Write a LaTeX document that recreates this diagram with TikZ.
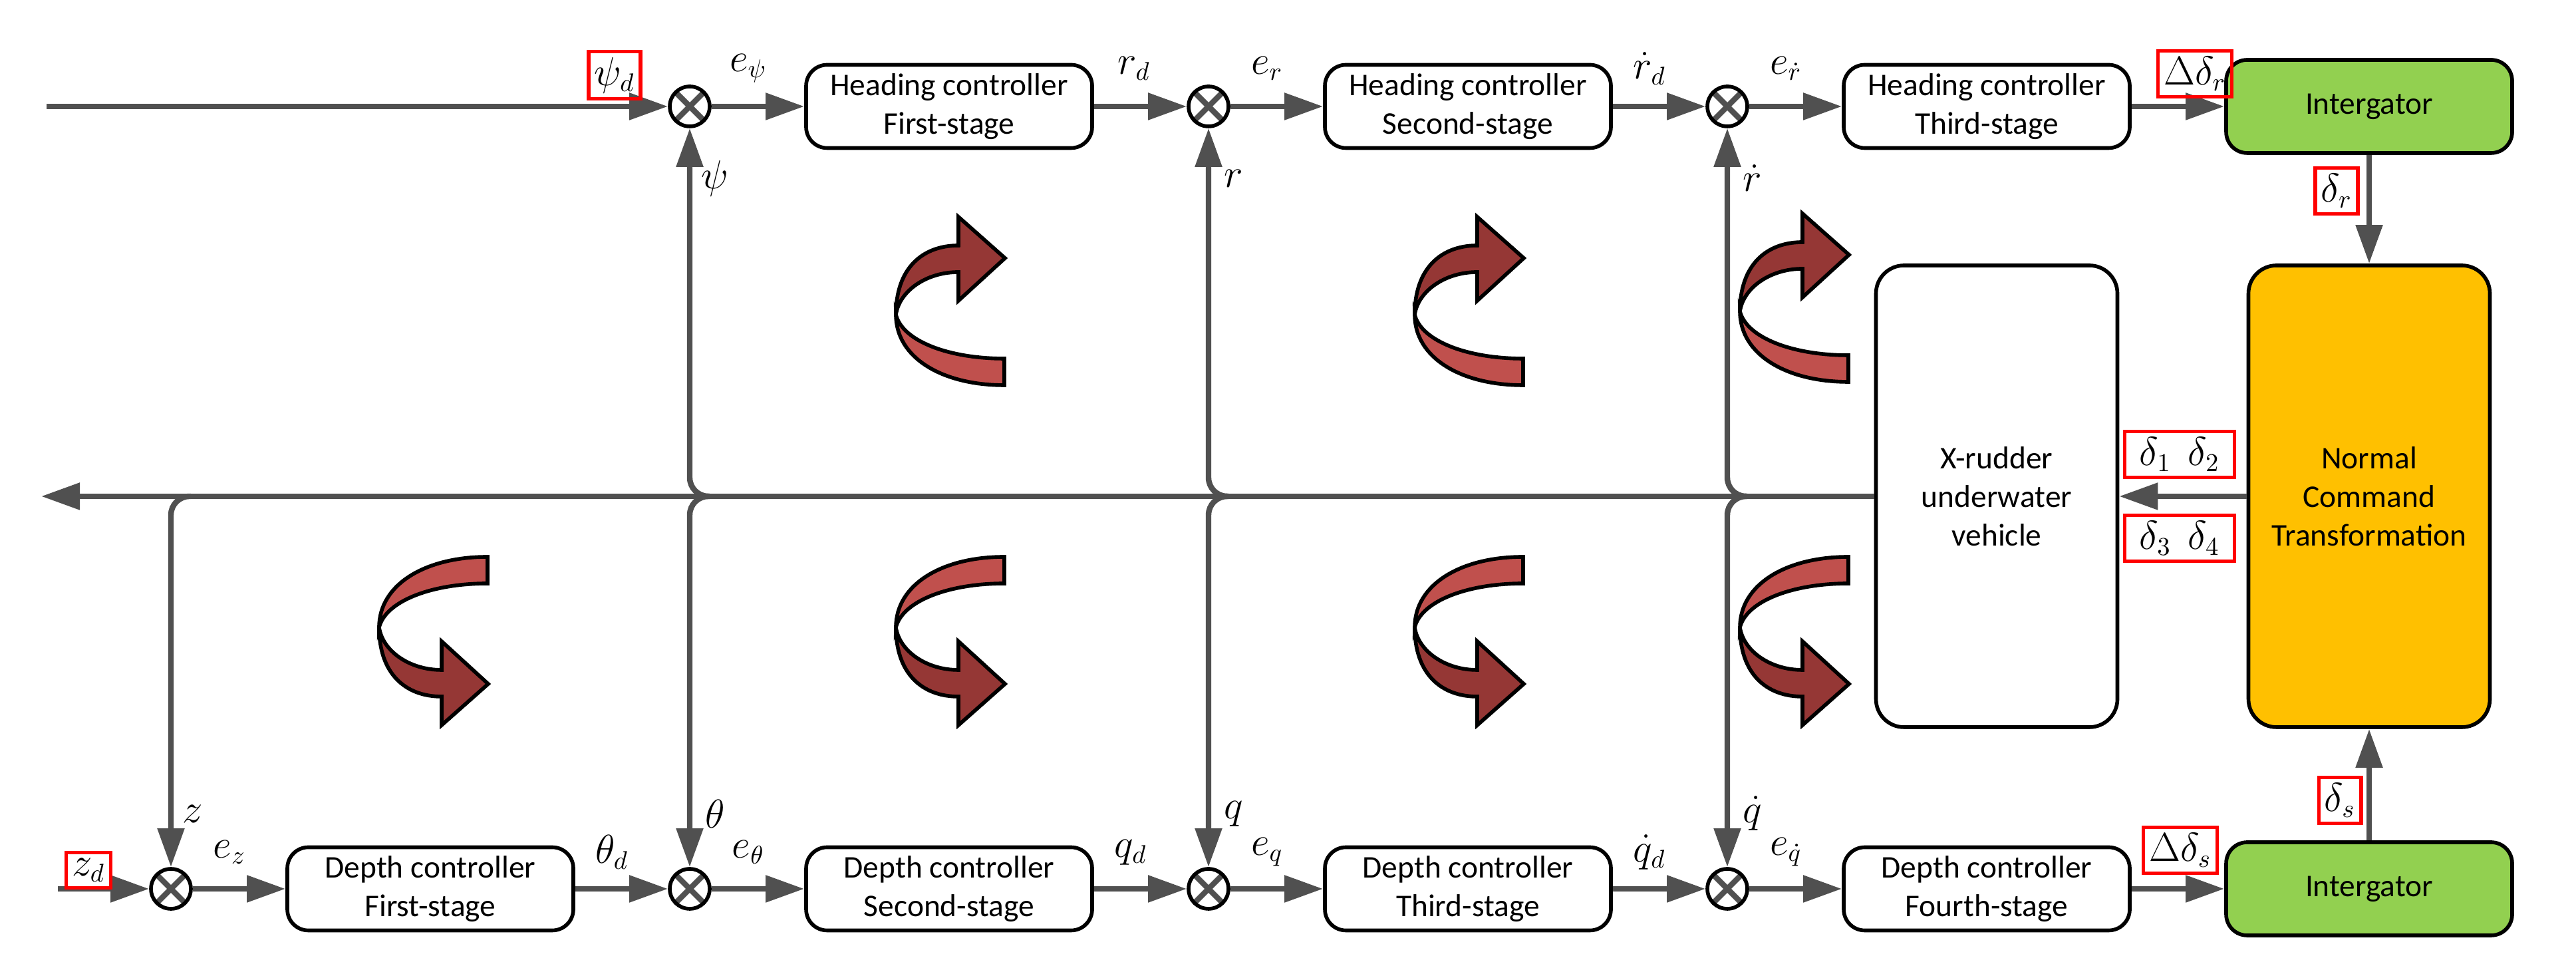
\documentclass[tikz,border=0pt]{standalone}
\usepackage{fontspec}
\setmainfont{Carlito}
\usepackage{tikz}
\usetikzlibrary{positioning,arrows.meta,calc}
\definecolor{lineg}{HTML}{505050}
\definecolor{darkred}{HTML}{953735}
\definecolor{lightred}{HTML}{C0504D}
\definecolor{ygreen}{HTML}{92D050}
\definecolor{gold}{HTML}{FFC000}
\newcommand{\turnarrow}[3]{% x, y, yscale
  \begin{scope}[shift={(#1,#2)}, yscale=#3, line width=1.6pt, draw=black]
    \filldraw[fill=lightred] (0,0) .. controls (0,-0.65) and (0.7,-1.06) .. (1.63,-1.06)
      -- (1.63,-0.66) .. controls (0.8,-0.66) and (0.1,-0.4) .. (0,0) -- cycle;
    \filldraw[fill=darkred] (0,0) .. controls (0,0.7) and (0.4,1.04) .. (0.94,1.04)
      -- (0.94,1.47) -- (1.64,0.85) -- (0.94,0.21) -- (0.94,0.64)
      .. controls (0.45,0.64) and (0.05,0.35) .. (0,0) -- cycle;
  \end{scope}}
\begin{document}
\begin{tikzpicture}[
  sig/.style={draw=lineg, line width=2.4pt, -{Triangle[length=0.58cm, width=0.39cm]}},
  fb/.style={sig, rounded corners=8pt},
  ctrl/.style={draw, line width=1.6pt, rounded corners=9pt, minimum width=4.3cm, minimum height=1.25cm, align=center, font=\fontsize{13.5}{16.5}\selectfont},
  integ/.style={ctrl, fill=ygreen, minimum height=1.4cm},
  big/.style={draw, line width=1.6pt, rounded corners=12pt, minimum width=3.63cm, minimum height=6.94cm, align=center, font=\fontsize{13.5}{16.5}\selectfont},
  sum/.style={draw, line width=1.6pt, circle, minimum size=0.6cm, inner sep=0pt,
    path picture={\draw[lineg, line width=2.4pt] (path picture bounding box.north west) -- (path picture bounding box.south east)
      (path picture bounding box.north east) -- (path picture bounding box.south west);}},
  lbl/.style={draw=red, line width=1.5pt, inner sep=2.5pt, font=\fontsize{16}{16}\selectfont},
  ml/.style={font=\fontsize{16}{16}\selectfont, inner sep=1pt}
]
\useasboundingbox (0,0) rectangle (38.73,14.73);

% heading channel
\coordinate (inp) at (0.7,13.13);
\node[sum] (sp) at (10.37,13.13) {};
\node[ctrl] (hc1) at (14.27,13.13) {Heading controller\\First-stage};
\node[sum] (sr) at (18.17,13.13) {};
\node[ctrl] (hc2) at (22.07,13.13) {Heading controller\\Second-stage};
\node[sum] (srd) at (25.97,13.13) {};
\node[ctrl] (hc3) at (29.87,13.13) {Heading controller\\Third-stage};
\node[integ] (it) at (35.62,13.13) {Intergator};

% depth channel
\coordinate (inz) at (0.87,1.37);
\node[sum] (sz) at (2.57,1.37) {};
\node[ctrl] (dc1) at (6.47,1.37) {Depth controller\\First-stage};
\node[sum] (sth) at (10.37,1.37) {};
\node[ctrl] (dc2) at (14.27,1.37) {Depth controller\\Second-stage};
\node[sum] (sq) at (18.17,1.37) {};
\node[ctrl] (dc3) at (22.07,1.37) {Depth controller\\Third-stage};
\node[sum] (sqd) at (25.97,1.37) {};
\node[ctrl] (dc4) at (29.87,1.37) {Depth controller\\Fourth-stage};
\node[integ] (ib) at (35.62,1.37) {Intergator};

% plant and allocation
\node[big] (veh) at (30.02,7.27) {X-rudder\\underwater\\vehicle};
\node[big, fill=gold] (ntr) at (35.62,7.27) {Normal\\Command\\Transformation};
\coordinate (out) at (0.62,7.27);

% forward paths
\draw[sig] (inp) -- (sp);
\draw[sig] (sp) -- (hc1);
\draw[sig] (hc1) -- (sr);
\draw[sig] (sr) -- (hc2);
\draw[sig] (hc2) -- (srd);
\draw[sig] (srd) -- (hc3);
\draw[sig] (hc3) -- (it);
\draw[sig] (inz) -- (sz);
\draw[sig] (sz) -- (dc1);
\draw[sig] (dc1) -- (sth);
\draw[sig] (sth) -- (dc2);
\draw[sig] (dc2) -- (sq);
\draw[sig] (sq) -- (dc3);
\draw[sig] (dc3) -- (sqd);
\draw[sig] (sqd) -- (dc4);
\draw[sig] (dc4) -- (ib);
\draw[sig] (it) -- (ntr);
\draw[sig] (ib) -- (ntr);
\draw[sig] (ntr) -- (veh);
\draw[sig] (veh.west) -- (out);

% feedback branches
\foreach \s in {sp,sr,srd,sz,sth,sq,sqd}
  \draw[fb] ([xshift=3mm]\s |- veh.west) -| (\s);

% signal labels
\node[lbl] (lpsid) at (9.24,13.6) {$\psi_d$};
\node[lbl] (lzd) at (1.33,1.65) {$z_d$};
\node[lbl] (ldr) at (33.0,13.62) {$\Delta\delta_r$};
\node[lbl] (lr) at (35.13,11.86) {$\delta_r$};
\node[lbl] (lds) at (32.78,1.95) {$\Delta\delta_s$};
\node[lbl] (ls) at (35.18,2.70) {$\delta_s$};
\node[lbl, minimum width=1.65cm] (l12) at (32.77,7.9) {$\delta_1\ \ \delta_2$};
\node[lbl, minimum width=1.65cm] (l34) at (32.77,6.64) {$\delta_3\ \ \delta_4$};

\node[ml] at (11.25,13.7) {$e_\psi$};
\node[ml] at (17.05,13.7) {$r_d$};
\node[ml] at (19.05,13.7) {$e_r$};
\node[ml] at (24.8,13.7) {$\dot r_d$};
\node[ml] at (26.85,13.7) {$e_{\dot r}$};
\node[ml] at (10.75,12.05) {$\psi$};
\node[ml] at (18.55,12.05) {$r$};
\node[ml] at (26.35,12.05) {$\dot r$};
\node[ml] at (2.9,2.5) {$z$};
\node[ml] at (10.75,2.5) {$\theta$};
\node[ml] at (18.55,2.5) {$q$};
\node[ml] at (26.35,2.5) {$\dot q$};
\node[ml] at (3.45,1.92) {$e_z$};
\node[ml] at (9.2,1.92) {$\theta_d$};
\node[ml] at (11.25,1.92) {$e_\theta$};
\node[ml] at (17.0,1.92) {$q_d$};
\node[ml] at (19.05,1.92) {$e_q$};
\node[ml] at (24.8,1.92) {$\dot q_d$};
\node[ml] at (26.85,1.92) {$e_{\dot q}$};

% rotation arrows
\turnarrow{13.47}{10.0}{1}
\turnarrow{21.27}{10.0}{1}
\turnarrow{26.16}{10.05}{1}
\turnarrow{5.7}{5.3}{-1}
\turnarrow{13.47}{5.3}{-1}
\turnarrow{21.27}{5.3}{-1}
\turnarrow{26.16}{5.3}{-1}
\end{tikzpicture}
\end{document}
